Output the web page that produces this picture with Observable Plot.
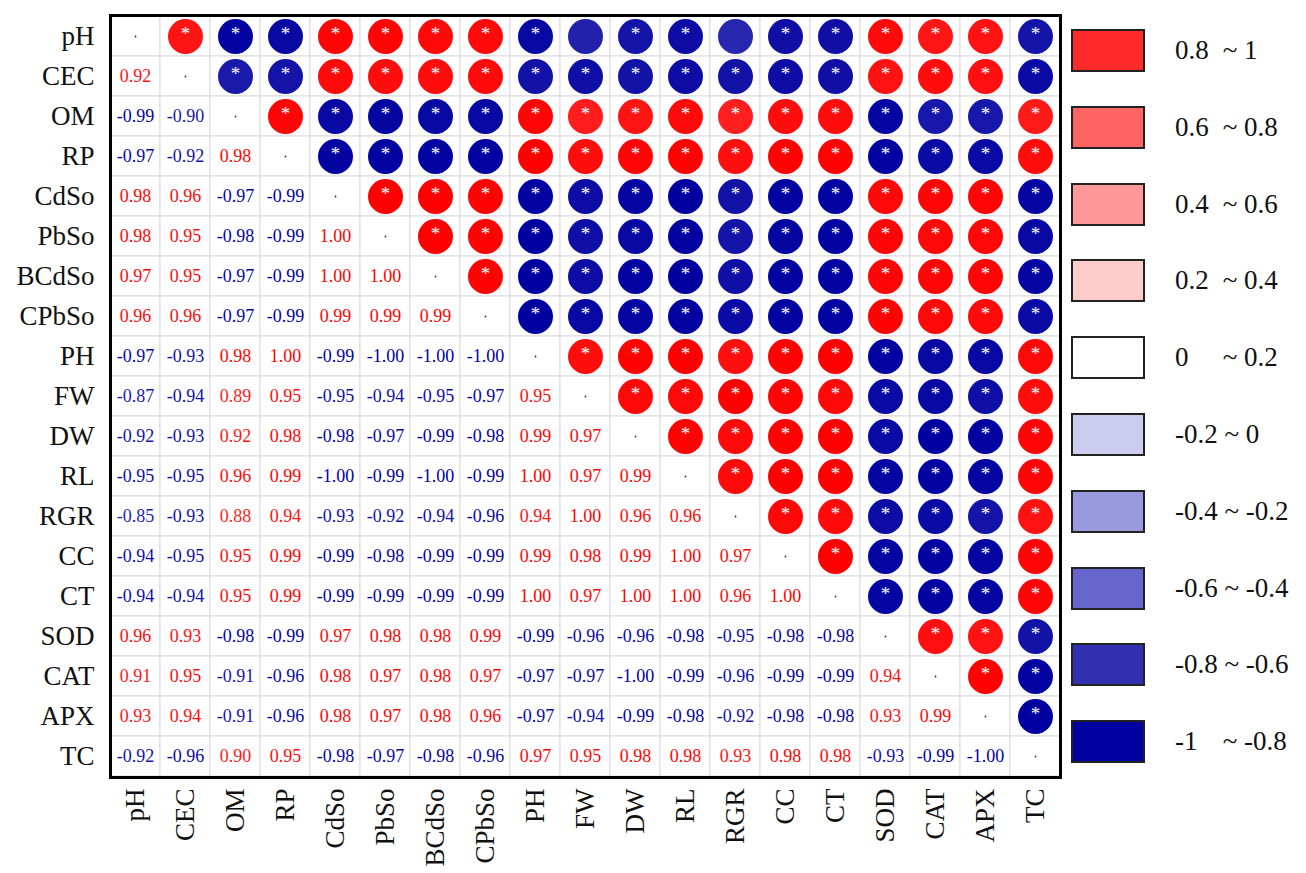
<!DOCTYPE html>
<html>
<head>
<meta charset="utf-8">
<script src="https://cdn.jsdelivr.net/npm/d3@7"></script>
<script src="https://cdn.jsdelivr.net/npm/@observablehq/plot@0.6"></script>
<style>
  html, body { margin: 0; padding: 0; background: white; }
  #wrap { position: relative; width: 1306px; height: 873px; font-family: 'Liberation Serif', 'DejaVu Serif', serif; }
  #chart { position: absolute; left: 0; top: 0; }
  #legend { position: absolute; left: 1071px; top: 29px; }
  .item { display: flex; align-items: center; height: 43px; margin-bottom: 33.8px; }
  .box { width: 70px; height: 39px; border: 2px solid #222; box-sizing: content-box; }
  .lab { margin-left: 30px; font-size: 27px; color: #111; white-space: pre; line-height: 1; }
  .lab .a { display: inline-block; min-width: 41px; }
</style>
</head>
<body>
<div id="wrap">
  <div id="chart"></div>
  <div id="legend"></div>
</div>
<script>
const labels = ["pH","CEC","OM","RP","CdSo","PbSo","BCdSo","CPbSo","PH","FW","DW","RL","RGR","CC","CT","SOD","CAT","APX","TC"];

// lower triangle rows (row i, columns 0..i-1)
const lower = [
  [],
  [0.92],
  [-0.99, -0.90],
  [-0.97, -0.92, 0.98],
  [0.98, 0.96, -0.97, -0.99],
  [0.98, 0.95, -0.98, -0.99, 1.00],
  [0.97, 0.95, -0.97, -0.99, 1.00, 1.00],
  [0.96, 0.96, -0.97, -0.99, 0.99, 0.99, 0.99],
  [-0.97, -0.93, 0.98, 1.00, -0.99, -1.00, -1.00, -1.00],
  [-0.87, -0.94, 0.89, 0.95, -0.95, -0.94, -0.95, -0.97, 0.95],
  [-0.92, -0.93, 0.92, 0.98, -0.98, -0.97, -0.99, -0.98, 0.99, 0.97],
  [-0.95, -0.95, 0.96, 0.99, -1.00, -0.99, -1.00, -0.99, 1.00, 0.97, 0.99],
  [-0.85, -0.93, 0.88, 0.94, -0.93, -0.92, -0.94, -0.96, 0.94, 1.00, 0.96, 0.96],
  [-0.94, -0.95, 0.95, 0.99, -0.99, -0.98, -0.99, -0.99, 0.99, 0.98, 0.99, 1.00, 0.97],
  [-0.94, -0.94, 0.95, 0.99, -0.99, -0.99, -0.99, -0.99, 1.00, 0.97, 1.00, 1.00, 0.96, 1.00],
  [0.96, 0.93, -0.98, -0.99, 0.97, 0.98, 0.98, 0.99, -0.99, -0.96, -0.96, -0.98, -0.95, -0.98, -0.98],
  [0.91, 0.95, -0.91, -0.96, 0.98, 0.97, 0.98, 0.97, -0.97, -0.97, -1.00, -0.99, -0.96, -0.99, -0.99, 0.94],
  [0.93, 0.94, -0.91, -0.96, 0.98, 0.97, 0.98, 0.96, -0.97, -0.94, -0.99, -0.98, -0.92, -0.98, -0.98, 0.93, 0.99],
  [-0.92, -0.96, 0.90, 0.95, -0.98, -0.97, -0.98, -0.96, 0.97, 0.95, 0.98, 0.98, 0.93, 0.98, 0.98, -0.93, -0.99, -1.00]
];

// pairs without significance star (upper triangle)
const notSignificant = [["pH","FW"], ["pH","RGR"]];

const legendLabels = [["0.8","~ 1"],["0.6","~ 0.8"],["0.4","~ 0.6"],["0.2","~ 0.4"],["0","~ 0.2"],["-0.2","~ 0"],["-0.4","~ -0.2"],["-0.6","~ -0.4"],["-0.8","~ -0.6"],["-1","~ -0.8"]];
const legendColors = ["#FF2A2A","#FF6464","#FF9999","#FFCCCC","#FFFFFF","#CCCCEE","#9999DD","#6666CC","#3030B0","#0000A0"];

const cells = [];
labels.forEach((rowName, i) => {
  labels.forEach((colName, j) => {
    const r = i === j ? 1 : (i > j ? lower[i][j] : lower[j][i]);
    cells.push({row: rowName, col: colName, i, j, r});
  });
});
const isNS = d => notSignificant.some(([a, b]) => a === d.row && b === d.col);
const lowerCells = cells.filter(d => d.i > d.j);
const upperCells = cells.filter(d => d.i < d.j);
const diagCells = cells.filter(d => d.i === d.j);

const chart = Plot.plot({
  width: 1062,
  height: 873,
  marginLeft: 110,
  marginRight: 2,
  marginTop: 15,
  marginBottom: 96,
  style: {fontFamily: "'Liberation Serif', 'DejaVu Serif', serif", background: "white", color: "#111"},
  x: {domain: labels, padding: 0},
  y: {domain: labels, padding: 0},
  color: {type: "linear", domain: [-1, 0, 1], range: ["#0000A0", "#FFFFFF", "#FF0000"]},
  marks: [
    Plot.cell(cells, {x: "col", y: "row", fill: "white", stroke: "#d9d9d9", strokeWidth: 1}),
    Plot.text(lowerCells, {x: "col", y: "row", text: d => d.r.toFixed(2), fill: "r", fontSize: 18}),
    Plot.dot(diagCells, {x: "col", y: "row", r: 0.9, fill: "#333"}),
    Plot.dot(upperCells, {x: "col", y: "row", r: 17.5, fill: "r"}),
    Plot.text(upperCells.filter(d => !isNS(d)), {x: "col", y: "row", text: () => "*", fill: "white", fontSize: 19, dy: -3}),
    Plot.frame({stroke: "black", strokeWidth: 3}),
    Plot.axisX({tickRotate: -90, tickSize: 0, tickPadding: 11, fontSize: 27, label: null}),
    Plot.axisY({tickSize: 0, tickPadding: 16, fontSize: 27, label: null})
  ]
});
document.getElementById("chart").appendChild(chart);

const leg = document.getElementById("legend");
legendLabels.forEach((lab, k) => {
  const item = document.createElement("div");
  item.className = "item";
  item.innerHTML = `<div class="box" style="background:${legendColors[k]}"></div><div class="lab"><span class="a">${lab[0]}</span> ${lab[1]}</div>`;
  leg.appendChild(item);
});
</script>
</body>
</html>
